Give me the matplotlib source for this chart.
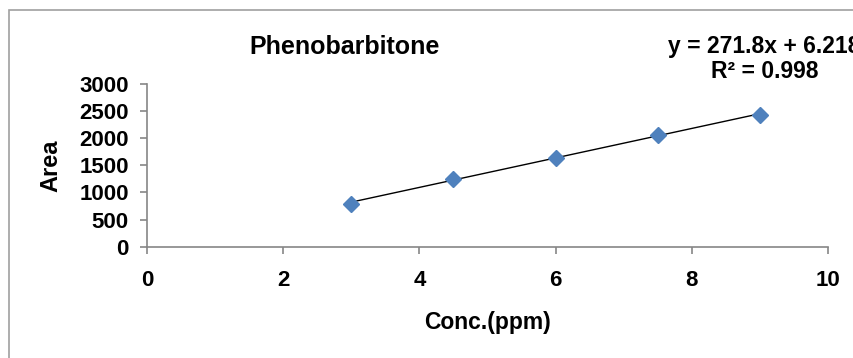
import numpy as np
import matplotlib
matplotlib.use("Agg")
import matplotlib.pyplot as plt
from matplotlib.patches import Rectangle

plt.rcParams['font.family'] = ['Liberation Sans', 'DejaVu Sans']

conc = [3, 4.5, 6, 7.5, 9]
area = [790, 1252, 1630, 2062, 2430]
slope = 271.8
intercept = 6.218
x_ticks = [0, 2, 4, 6, 8, 10]
y_ticks = [0, 500, 1000, 1500, 2000, 2500, 3000]

fig = plt.figure(figsize=(8.54, 3.58), dpi=100)
ax = fig.add_axes([0.1721, 0.3109, 0.7975, 0.4545])

# trendline
xs = np.array([conc[0], conc[-1]])
ax.plot(xs, slope * xs + intercept, color='black', lw=1, zorder=2)
ax.plot(conc, area, 'D', color='#4f81bd', markersize=8.5, zorder=3)

ax.set_xlim(0, 10)
ax.set_ylim(0, 3000)
ax.set_xticks(x_ticks)
ax.set_yticks(y_ticks)
for s in ['top', 'right']:
    ax.spines[s].set_visible(False)
for s in ['left', 'bottom']:
    ax.spines[s].set_color('#868686')
    ax.spines[s].set_linewidth(1.2)
ax.tick_params(axis='both', direction='out', color='#868686', length=5, width=1.2,
               labelsize=16)
ax.tick_params(axis='x', pad=12)
ax.tick_params(axis='y', pad=8)
for lbl in ax.get_xticklabels() + ax.get_yticklabels():
    lbl.set_fontweight('bold')

ax.set_xlabel('Conc.(ppm)', fontsize=16.5, fontweight='bold', labelpad=14)
ax.set_ylabel('Area', fontsize=17, fontweight='bold', labelpad=12)

fig.text(0.404, 0.87, 'Phenobarbitone', ha='center', va='center', fontsize=18, fontweight='bold')
fig.text(0.895, 0.87, 'y = 271.8x + 6.218', ha='center', va='center', fontsize=16.5, fontweight='bold')
fig.text(0.895, 0.80, 'R² = 0.998', ha='center', va='center', fontsize=16.5, fontweight='bold')

fig.add_artist(Rectangle((9.5 / 854, -0.1), 1.1, 0.1 + 1 - 9.5 / 358, transform=fig.transFigure,
                         fill=False, edgecolor='#a0a0a0', lw=1.2, clip_on=False))

fig.savefig('out.png', dpi=100)
